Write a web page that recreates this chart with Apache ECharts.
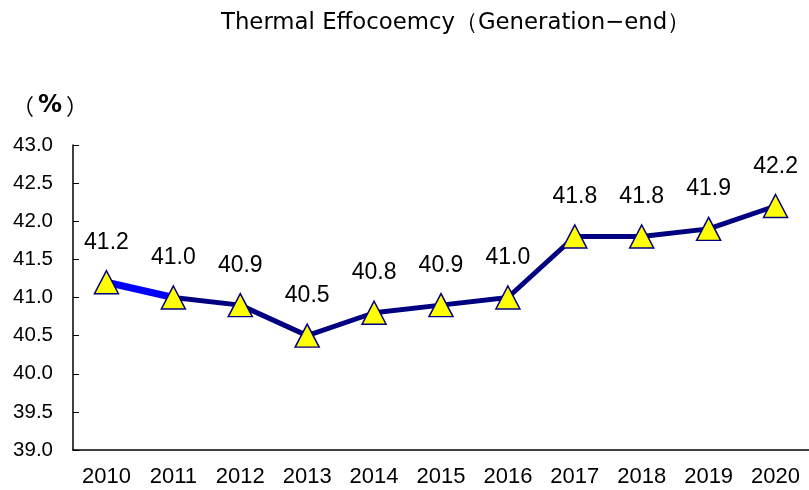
<!DOCTYPE html>
<html>
<head>
<meta charset="utf-8">
<script src="https://cdn.jsdelivr.net/npm/echarts@6/dist/echarts.min.js"></script>
<style>
html,body{margin:0;padding:0;background:#fff;}
#chart{width:809px;height:490px;}
</style>
</head>
<body>
<div id="chart"></div>
<script>
var titleText = 'Thermal Effocoemcy（Generation−end）';
var unitParts = ['（', '%', '）'];
var categories = ['2010','2011','2012','2013','2014','2015','2016','2017','2018','2019','2020'];
var values = [41.2, 41.0, 40.9, 40.5, 40.8, 40.9, 41.0, 41.8, 41.8, 41.9, 42.2];
var yMin = 39.0, yMax = 43.0, yStep = 0.5;

var firstSegment = values.map(function(v, i){ return i < 2 ? v : null; });
var restSegment = values.map(function(v, i){ return i >= 1 ? v : null; });

var chart = echarts.init(document.getElementById('chart'), null, {renderer:'canvas'});
var font = '"Liberation Sans", Arial, sans-serif';
chart.setOption({
  backgroundColor: '#ffffff',
  animation: false,
  title: {
    text: titleText, left: 216, top: 7,
    textStyle: {fontFamily: '"DejaVu Sans", sans-serif', fontSize: 22.8, fontWeight: 'normal', color: '#000'}
  },
  graphic: [{
    type: 'text', left: 12, top: 94,
    style: {
      text: '{p|' + unitParts[0] + '}{b|' + unitParts[1] + '}{p|' + unitParts[2] + '}',
      rich: {
        p: {fontFamily: '"Noto Sans CJK JP", sans-serif', fontSize: 22, fill: '#000', color: '#000'},
        b: {fontFamily: '"DejaVu Sans", sans-serif', fontSize: 24, fontWeight: 'bold', fill: '#000', color: '#000', padding: [0, 4, 0, 4]}
      }
    }
  }],
  grid: {left: 73, right: 0, top: 145, bottom: 40, containLabel: false},
  xAxis: {
    type: 'category', data: categories, boundaryGap: true,
    axisLine: {lineStyle: {color: '#000', width: 1.5}},
    axisTick: {inside: true, length: 7, lineStyle: {color: '#000'}},
    axisLabel: {fontFamily: font, fontSize: 22, color: '#000', margin: 16}
  },
  yAxis: {
    type: 'value', min: yMin, max: yMax, interval: yStep,
    splitLine: {show: false},
    axisLine: {show: true, lineStyle: {color: '#000', width: 1.5}},
    axisTick: {show: true, inside: true, length: 6, lineStyle: {color: '#000'}},
    axisLabel: {fontFamily: font, fontSize: 20.5, color: '#000', margin: 20,
      formatter: function(v){ return v.toFixed(1); }}
  },
  series: [{
    type: 'line', data: restSegment, z: 1,
    symbol: 'none', silent: true,
    lineStyle: {color: '#000080', width: 5}
  },{
    type: 'line', data: firstSegment, z: 2,
    symbol: 'none', silent: true,
    lineStyle: {color: '#0000ff', width: 7}
  },{
    type: 'line', data: values, z: 3,
    symbol: 'triangle', symbolSize: [24, 23],
    itemStyle: {color: '#ffff00', borderColor: '#000080', borderWidth: 1.5},
    lineStyle: {width: 0, opacity: 0},
    label: {show: true, position: 'top', distance: 16,
      fontFamily: font, fontSize: 23, color: '#000',
      formatter: function(p){ return p.value.toFixed(1); }}
  }]
});
</script>
</body>
</html>
